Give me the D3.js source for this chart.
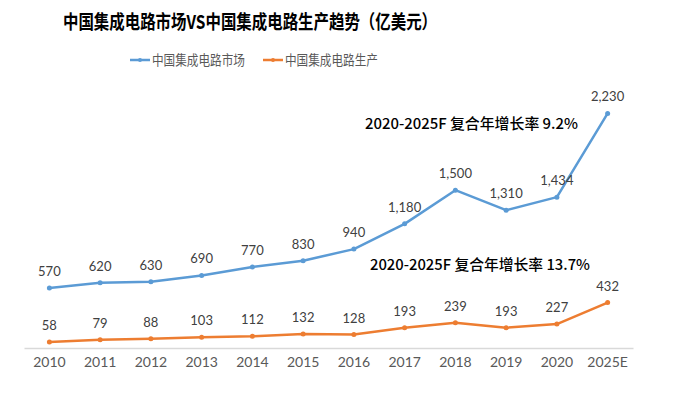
<!DOCTYPE html>
<html>
<head>
<meta charset="utf-8">
<script src="https://cdn.jsdelivr.net/npm/d3@7"></script>
<style>
  body { margin: 0; background: #fff; }
  svg { font-family: "Noto Sans CJK SC", "Noto Sans", sans-serif; }
</style>
</head>
<body>
<div id="chart"></div>
<script>
// data
const years = ["2010", "2011", "2012", "2013", "2014", "2015", "2016", "2017", "2018", "2019", "2020", "2025E"];
const marketVals = [570, 620, 630, 690, 770, 830, 940, 1180, 1500, 1310, 1434, 2230];
const prodVals = [58, 79, 88, 103, 112, 132, 128, 193, 239, 193, 227, 432];
const seriesNames = ["中国集成电路市场", "中国集成电路生产"];
const colors = ["#5B9BD5", "#ED7D31"];
const titleText = "中国集成电路市场VS中国集成电路生产趋势（亿美元）";
const notes = ["2020-2025F 复合年增长率 9.2%", "2020-2025F 复合年增长率 13.7%"];

const width = 678, height = 397;

const svg = d3.select("#chart").append("svg")
    .attr("width", width)
    .attr("height", height);

// scales
const x = d3.scaleBand().domain(years).range([24, 633]);
const y = d3.scaleLinear().domain([0, 2500]).range([348, 85]);
const cx = d => x(d) + x.bandwidth() / 2;

// title
svg.append("text")
    .attr("x", 63).attr("y", 29)
    .attr("font-size", 19).attr("font-weight", "bold")
    .attr("fill", "#000")
    .attr("textLength", 374).attr("lengthAdjust", "spacingAndGlyphs")
    .text(titleText);

// legend
const leg = svg.append("g");
[130, 263].forEach((lx, i) => {
    leg.append("line")
        .attr("x1", lx).attr("x2", lx + 20).attr("y1", 60).attr("y2", 60)
        .attr("stroke", colors[i]).attr("stroke-width", 2.5);
    leg.append("circle").attr("cx", lx + 10).attr("cy", 60).attr("r", 2).attr("fill", colors[i]);
    leg.append("text")
        .attr("x", lx + 22).attr("y", 65)
        .attr("font-size", 14).attr("fill", "#595959")
        .attr("textLength", 93).attr("lengthAdjust", "spacingAndGlyphs")
        .text(seriesNames[i]);
});

// x axis
const xAxis = svg.append("g")
    .attr("transform", "translate(0,348)")
    .call(d3.axisBottom(x).tickSize(0).tickPadding(9));
xAxis.select(".domain").attr("stroke", "#d9d9d9").attr("stroke-width", 1.5);
xAxis.selectAll("text")
    .attr("font-size", 14).attr("fill", "#595959")
    .attr("font-family", "Lato, 'Noto Sans', sans-serif");

// lines
const line = d3.line().x((d, i) => cx(years[i])).y(d => y(d));

[marketVals, prodVals].forEach((vals, s) => {
    svg.append("path")
        .datum(vals)
        .attr("d", line)
        .attr("fill", "none")
        .attr("stroke", colors[s])
        .attr("stroke-width", 2.5)
        .attr("stroke-linejoin", "round");
    svg.selectAll(".pt" + s)
        .data(vals).enter().append("circle")
        .attr("cx", (d, i) => cx(years[i]))
        .attr("cy", d => y(d))
        .attr("r", 2.5)
        .attr("fill", colors[s]);
    svg.selectAll(".lb" + s)
        .data(vals).enter().append("text")
        .attr("x", (d, i) => cx(years[i]))
        .attr("y", d => y(d) - 12)
        .attr("text-anchor", "middle")
        .attr("font-size", 13).attr("fill", "#404040")
        .attr("font-family", "Lato, 'Noto Sans', sans-serif")
        .text(d => d3.format(",")(d));
});

// CAGR notes
svg.append("text")
    .attr("x", 365).attr("y", 129)
    .attr("font-size", 14.5).attr("font-weight", 500).attr("fill", "#000")
    .attr("textLength", 213).attr("lengthAdjust", "spacingAndGlyphs")
    .text(notes[0]);
svg.append("text")
    .attr("x", 370).attr("y", 270)
    .attr("font-size", 14.5).attr("font-weight", 500).attr("fill", "#000")
    .attr("textLength", 220).attr("lengthAdjust", "spacingAndGlyphs")
    .text(notes[1]);
</script>
</body>
</html>
